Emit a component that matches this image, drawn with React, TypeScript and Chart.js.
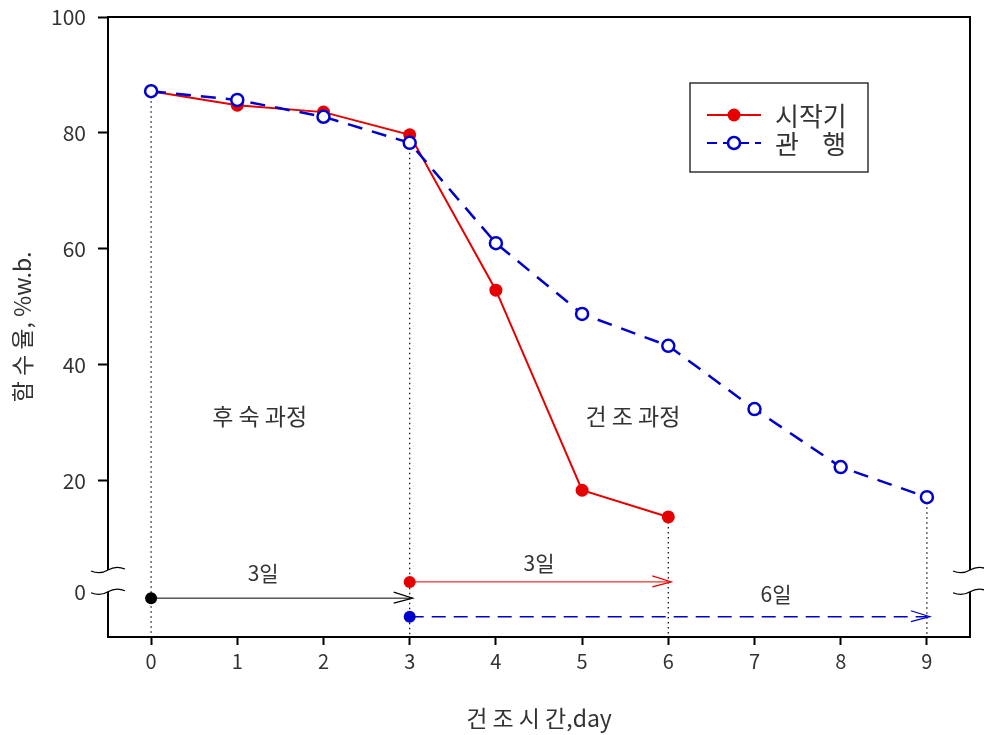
import React, { useEffect, useRef } from "react";
import { Chart, registerables } from "chart.js";
Chart.register(...registerables);

// ---- data ----
const days = [0, 1, 2, 3, 4, 5, 6, 7, 8, 9];
const startSeries = [87.2, 84.8, 83.6, 79.7, 52.9, 18.4, 13.8]; // 시작기
const conventional = [87.2, 85.7, 82.8, 78.3, 61.0, 48.8, 43.3, 32.4, 22.4, 17.2]; // 관행
const seriesLabels = ["시작기", "관    행"];
const yTicks = [0, 20, 40, 60, 80, 100];
const xTicks = [0, 1, 2, 3, 4, 5, 6, 7, 8, 9];

// vertical dotted guides
const guideDays = [0, 3, 6, 9];
const guideTops = [87.2, 78.3, 13.8, 17.2];

// period arrows
const arrowStarts = [0, 3, 3];
const arrowEnds = [3, 6, 9];
const arrowLevels = [-0.2, 2.6, -3.4];
const arrowTexts = ["3일", "3일", "6일"];
const arrowTextX = [1.3, 4.5, 7.25];
const arrowTextY = [4.1, 5.9, 0.5];

// phase labels
const phaseTexts = ["후 숙 과정", "건 조 과정"];
const phaseX = [1.26, 5.59];
const phaseY = [31.2, 31.2];

// axis break (values)
const breakValues = [4.65, 0.9];

const FONT = "'Noto Sans CJK KR', 'DejaVu Sans', sans-serif";
const TEXT = "#333";
const RED = "#e60000";
const BLUE = "#0000cc";

export default function App() {
  const ref = useRef<HTMLCanvasElement | null>(null);

  useEffect(() => {
    document.body.style.margin = "0";
    const canvas = ref.current;
    if (!canvas) return;

    const arrowColors = ["#000", RED, BLUE];
    const arrowWidths = [1, 1, 1.6];
    const arrowDashes = [[], [], [14, 8]];

    const guideSets = guideDays.map((d, i) => ({
      type: "line" as const,
      data: [
        { x: d, y: guideTops[i] },
        { x: d, y: -6.9 },
      ],
      borderColor: "#000",
      borderWidth: 1.2,
      borderDash: [1.5, 3.5],
      pointRadius: 0,
      order: 10,
    }));

    const arrowSets = arrowStarts.map((s, i) => ({
      type: "line" as const,
      data: [
        { x: s, y: arrowLevels[i] },
        { x: arrowEnds[i], y: arrowLevels[i] },
      ],
      borderColor: arrowColors[i],
      borderWidth: arrowWidths[i],
      borderDash: arrowDashes[i],
      pointRadius: [6, 0],
      pointBackgroundColor: arrowColors[i],
      pointBorderColor: arrowColors[i],
      pointBorderWidth: 0,
      order: 5,
    }));

    const decor = {
      id: "decor",
      afterDatasetsDraw(chart: any) {
        const { ctx, chartArea: a, scales } = chart;
        const xs = scales.x;
        const ys = scales.y;
        ctx.save();
        // arrowheads
        arrowEnds.forEach((e, i) => {
          const px = xs.getPixelForValue(e) + 3;
          const py = ys.getPixelForValue(arrowLevels[i]);
          ctx.strokeStyle = arrowColors[i];
          ctx.lineWidth = 1.2;
          ctx.setLineDash([]);
          ctx.beginPath();
          ctx.moveTo(px - 19, py - 6);
          ctx.lineTo(px, py);
          ctx.lineTo(px - 19, py + 5);
          ctx.stroke();
        });
        // texts
        ctx.fillStyle = TEXT;
        ctx.textAlign = "center";
        ctx.textBaseline = "middle";
        ctx.font = `21px ${FONT}`;
        arrowTexts.forEach((t, i) => {
          ctx.fillText(t, xs.getPixelForValue(arrowTextX[i]), ys.getPixelForValue(arrowTextY[i]));
        });
        ctx.font = `23px ${FONT}`;
        phaseTexts.forEach((t, i) => {
          ctx.fillText(t, xs.getPixelForValue(phaseX[i]), ys.getPixelForValue(phaseY[i]));
        });

        // frame
        ctx.strokeStyle = "#000";
        ctx.lineWidth = 2;
        ctx.strokeRect(a.left, a.top, a.right - a.left, a.bottom - a.top);

        // axis break
        const b0 = ys.getPixelForValue(breakValues[0]);
        const b1 = ys.getPixelForValue(breakValues[1]);
        [a.left, a.right].forEach((x) => {
          ctx.fillStyle = "#fff";
          ctx.fillRect(x - 3, b0, 6, b1 - b0);
          ctx.strokeStyle = "#000";
          ctx.lineWidth = 1.3;
          [b0, b1].forEach((y) => {
            ctx.beginPath();
            ctx.moveTo(x - 17, y + 1);
            ctx.bezierCurveTo(x - 10, y + 4, x - 5, y + 3, x, y);
            ctx.bezierCurveTo(x + 5, y - 3, x + 10, y - 4, x + 17, y - 1);
            ctx.stroke();
          });
        });
        // zero label next to the break
        ctx.fillStyle = TEXT;
        ctx.textAlign = "right";
        ctx.font = `21px ${FONT}`;
        ctx.fillText(String(yTicks[0]), a.left - 22, b1);

        // legend
        const lx = 690, ly = 83, lw = 178, lh = 89;
        ctx.fillStyle = "#fff";
        ctx.fillRect(lx, ly, lw, lh);
        ctx.strokeStyle = "#333";
        ctx.lineWidth = 1.5;
        ctx.strokeRect(lx, ly, lw, lh);
        const rows = [ly + 32, ly + 60];
        // red
        ctx.strokeStyle = RED;
        ctx.lineWidth = 2;
        ctx.beginPath();
        ctx.moveTo(lx + 17, rows[0]);
        ctx.lineTo(lx + 71, rows[0]);
        ctx.stroke();
        ctx.fillStyle = RED;
        ctx.beginPath();
        ctx.arc(lx + 44, rows[0], 6.5, 0, Math.PI * 2);
        ctx.fill();
        // blue
        ctx.strokeStyle = BLUE;
        ctx.setLineDash([10, 6]);
        ctx.beginPath();
        ctx.moveTo(lx + 17, rows[1]);
        ctx.lineTo(lx + 71, rows[1]);
        ctx.stroke();
        ctx.setLineDash([]);
        ctx.fillStyle = "#fff";
        ctx.lineWidth = 2.5;
        ctx.beginPath();
        ctx.arc(lx + 44, rows[1], 6, 0, Math.PI * 2);
        ctx.fill();
        ctx.stroke();
        ctx.fillStyle = TEXT;
        ctx.textAlign = "left";
        ctx.font = `26px ${FONT}`;
        ctx.fillText(seriesLabels[0], lx + 85, rows[0] + 1);
        ctx.fillText(seriesLabels[1], lx + 85, rows[1] + 1);
        ctx.restore();
      },
    };

    const chart = new Chart(canvas, {
      type: "line",
      data: {
        datasets: [
          ...guideSets,
          ...arrowSets,
          {
            label: seriesLabels[0],
            data: startSeries.map((v, i) => ({ x: days[i], y: v })),
            borderColor: RED,
            borderWidth: 2,
            pointRadius: 6.5,
            pointBackgroundColor: RED,
            pointBorderColor: RED,
            pointBorderWidth: 0,
            order: 1,
          },
          {
            label: seriesLabels[1],
            data: conventional.map((v, i) => ({ x: days[i], y: v })),
            borderColor: BLUE,
            borderWidth: 2.5,
            borderDash: [15, 10],
            pointRadius: 6,
            pointBackgroundColor: "#fff",
            pointBorderColor: BLUE,
            pointBorderWidth: 2.5,
            order: 0,
          },
        ] as any,
      },
      options: {
        animation: false,
        responsive: false,
        layout: { padding: { left: 0, top: 17, right: 14, bottom: 0 } },
        plugins: { legend: { display: false }, tooltip: { enabled: false } },
        scales: {
          x: {
            type: "linear",
            min: -0.5,
            max: 9.5,
            afterBuildTicks: (s: any) => {
              s.ticks = xTicks.map((v) => ({ value: v }));
            },
            afterFit: (s: any) => {
              s.height = 98;
              s.paddingLeft = 0;
              s.paddingRight = 0;
            },
            border: { display: false },
            grid: { drawOnChartArea: false, tickLength: 8, tickColor: "#000", tickWidth: 2 },
            ticks: {
              color: TEXT,
              font: { family: FONT, size: 20 },
              padding: 4,
              maxRotation: 0,
            },
            title: {
              display: true,
              text: "건 조 시 간,day",
              color: TEXT,
              font: { family: FONT, size: 23 },
              padding: { top: 0, bottom: 3 },
            },
          },
          y: {
            type: "linear",
            min: -6.9,
            max: 100,
            afterBuildTicks: (s: any) => {
              s.ticks = yTicks.map((v) => ({ value: v }));
            },
            afterFit: (s: any) => {
              s.width = 108;
              s.paddingTop = 0;
              s.paddingBottom = 0;
            },
            border: { display: false },
            grid: {
              drawOnChartArea: false,
              tickLength: 10,
              tickWidth: 2,
              tickColor: (c: any) => (c.tick && c.tick.value === 0 ? "rgba(0,0,0,0)" : "#000"),
            },
            ticks: {
              color: TEXT,
              font: { family: FONT, size: 21 },
              padding: 12,
              callback: (v: any) => (v === 0 ? "" : String(v)),
            },
            title: {
              display: true,
              text: "함 수 율, %w.b.",
              color: TEXT,
              font: { family: FONT, size: 23 },
              padding: { top: 8, bottom: 0 },
            },
          },
        },
      },
      plugins: [decor],
    } as any);

    return () => chart.destroy();
  }, []);

  return (
    <div style={{ width: 984, height: 735 }}>
      <canvas ref={ref} width={984} height={735} style={{ display: "block" }} />
    </div>
  );
}
